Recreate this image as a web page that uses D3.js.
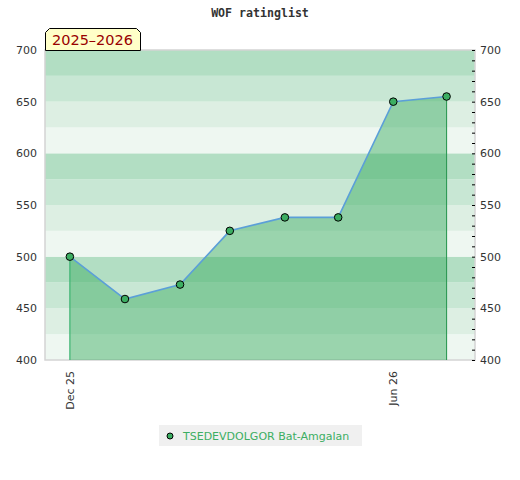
<!DOCTYPE html>
<html><head><meta charset="utf-8">
<script src="https://cdn.jsdelivr.net/npm/d3@7"></script>
<style>body{margin:0;background:#fff}svg{display:block}</style>
</head><body>
<svg id="c" width="520" height="480"></svg>
<script>
const dates = ["2025-12-01","2026-01-01","2026-02-01","2026-03-01","2026-04-01","2026-05-01","2026-06-01","2026-07-01"];
const ratings = [500, 459, 473, 525, 538, 538, 650, 655];
const xTickDates = ["2025-12-01","2026-06-01"];
const xTickLabels = ["Dec 25","Jun 26"];
const yTicks = [400,450,500,550,600,650,700];
const playerName = "TSEDEVDOLGOR Bat-Amgalan";
const seasonLabel = "2025–2026";
const titleText = "WOF ratinglist";

const parse = d3.timeParse("%Y-%m-%d");
const data = dates.map((d,i)=>({date:parse(d), v:ratings[i]}));
const svg = d3.select("#c");
const L=45,R=475,T=50,B=360;
const x = d3.scaleTime().domain([parse("2025-11-17"), parse("2026-07-17")]).range([L,R]);
const y = d3.scaleLinear().domain([400,700]).range([B,T]);

svg.append("text").attr("x",260).attr("y",17).attr("text-anchor","middle")
  .attr("font-family","DejaVu Sans Mono, monospace").attr("font-weight","bold").attr("font-size",11.6)
  .attr("fill","#333").text(titleText);

// bands
const bandColors = ["#eef7f1","#ddefe3","#c8e7d4","#b2dec3"];
for (let v=400; v<700; v+=25){
  const idx = ((v-400)/25)%4;
  svg.append("rect").attr("x",L).attr("width",R-L).attr("y",y(v+25)).attr("height",y(v)-y(v+25))
    .attr("fill",bandColors[idx]);
}
// frame
svg.append("rect").attr("x",L).attr("y",T).attr("width",R-L).attr("height",B-T)
  .attr("fill","none").attr("stroke","#d4d4d4").attr("stroke-width",1.5);

// area
const area = d3.area().x(d=>x(d.date)).y0(y(400)).y1(d=>y(d.v));
svg.append("path").datum(data).attr("d",area).attr("fill","rgb(51,169,90)").attr("fill-opacity",0.45);
const first = data[0], last = data[data.length-1];
svg.append("line").attr("x1",x(first.date)).attr("x2",x(first.date)).attr("y1",y(first.v)).attr("y2",y(400))
  .attr("stroke","#3cb371").attr("stroke-width",1.2);
svg.append("line").attr("x1",x(last.date)).attr("x2",x(last.date)).attr("y1",y(last.v)).attr("y2",y(400))
  .attr("stroke","#2e9a55").attr("stroke-width",1.1);

// line
svg.append("path").datum(data).attr("d",d3.line().x(d=>x(d.date)).y(d=>y(d.v)))
  .attr("fill","none").attr("stroke","#5b9fd8").attr("stroke-width",1.6);
svg.selectAll("circle.pt").data(data).enter().append("circle").attr("class","pt")
  .attr("cx",d=>x(d.date)).attr("cy",d=>y(d.v)).attr("r",3.8)
  .attr("fill","#3cae62").attr("stroke","#000").attr("stroke-width",1);

// left axis labels
const font = "DejaVu Sans, sans-serif";
svg.selectAll("text.yl").data(yTicks).enter().append("text").attr("class","yl")
  .attr("x",37).attr("y",d=>y(d)+4).attr("text-anchor","end")
  .attr("font-family",font).attr("font-size",11).attr("fill","#333").text(d=>d);
// right axis
const rAxis = d3.axisRight(y).tickValues(d3.range(400,701,10)).tickSize(3).tickFormat(d=> d%50===0 ? d : "");
const rg = svg.append("g").attr("transform",`translate(${R-3},0)`).call(rAxis);
rg.select(".domain").remove();
rg.selectAll(".tick line").attr("stroke","#000");
rg.selectAll(".tick text").attr("x",8).attr("font-family",font).attr("font-size",11).attr("fill","#333");

// x labels
svg.selectAll("text.xl").data(xTickDates).enter().append("text").attr("class","xl")
  .attr("transform",d=>`translate(${x(parse(d))+4},371) rotate(-90)`).attr("text-anchor","end")
  .attr("font-family",font).attr("font-size",11).attr("fill","#333").text((d,i)=>xTickLabels[i]);

// season label
const lb = svg.append("g");
lb.append("path").attr("d","M45.5,50.5 L45.5,32.5 L49.5,28.5 L136.5,28.5 L140.5,32.5 L140.5,50.5 Z")
  .attr("fill","#ffffc8").attr("stroke","#000").attr("stroke-width",1);
lb.append("text").attr("x",92.5).attr("y",45).attr("text-anchor","middle")
  .attr("font-family",font).attr("font-size",14.5).attr("fill","#990000").text(seasonLabel);

// legend
svg.append("rect").attr("x",159).attr("y",425).attr("width",203).attr("height",21).attr("fill","#f0f0f0");
svg.append("circle").attr("cx",170).attr("cy",436).attr("r",3).attr("fill","#3cae62").attr("stroke","#000");
svg.append("text").attr("x",183).attr("y",440).attr("font-family",font).attr("font-size",11)
  .attr("fill","#3cae62").text(playerName);
</script>
</body></html>
